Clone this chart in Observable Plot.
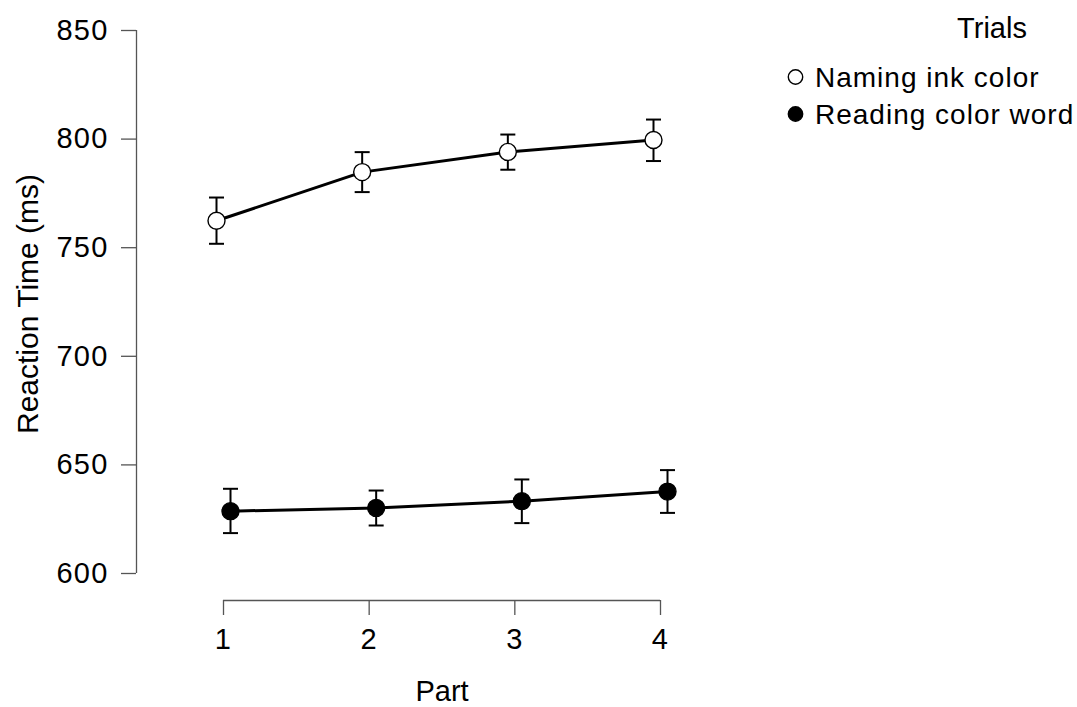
<!DOCTYPE html>
<html>
<head>
<meta charset="utf-8">
<script src="https://cdn.jsdelivr.net/npm/d3@7"></script>
<script src="https://cdn.jsdelivr.net/npm/@observablehq/plot@0.6"></script>
<style>
  html, body { margin: 0; padding: 0; background: #fff; }
  #wrap { position: relative; width: 1077px; height: 707px; overflow: hidden; font-family: "Liberation Sans", Arial, sans-serif; }
  #chart { position: absolute; left: 0; top: 0; }
  #legend { position: absolute; left: 0; top: 0; pointer-events: none; }
  #chart g[aria-label="y-axis tick label"] text,
  #chart g[aria-label="x-axis tick label"] text { letter-spacing: 1.2px; }
  #legend text { font-family: "Liberation Sans", Arial, sans-serif; fill: #000; }
</style>
</head>
<body>
<div id="wrap">
  <div id="chart"></div>
  <svg id="legend" width="1077" height="707"></svg>
</div>
<script>
// ---- Data ----
const parts = [1, 2, 3, 4];
const seriesNames = ["Naming ink color", "Reading color word"];
const namingMean = [762.4, 784.8, 794.1, 799.6];
const namingLo   = [751.8, 775.6, 785.9, 789.9];
const namingHi   = [773.1, 794.0, 802.1, 809.0];
const readingMean = [628.7, 630.2, 633.3, 637.7];
const readingLo   = [618.6, 622.1, 623.2, 627.9];
const readingHi   = [639.0, 638.2, 643.3, 647.6];
const yTicks = [600, 650, 700, 750, 800, 850];
const xTicks = [1, 2, 3, 4];
const xTitle = "Part";
const yTitle = "Reaction Time (ms)";
const legendTitle = "Trials";

const naming = parts.map((p, i) => ({part: p, mean: namingMean[i], lo: namingLo[i], hi: namingHi[i]}));
const reading = parts.map((p, i) => ({part: p, mean: readingMean[i], lo: readingLo[i], hi: readingHi[i]}));

const capSymbol = {
  draw(context, size) {
    context.moveTo(-7.5, 0);
    context.lineTo(7.5, 0);
  }
};

const W = 1077, H = 707;
const xRange = [223, 660];
const yRange = [573, 30];
const mL = 136, mT = 30, mB = 107, mR = W - xRange[1];
const off = 7;
const axisColor = "#555";

function series(data, dx, fill) {
  return [
    Plot.ruleX(data, {x: "part", y1: "lo", y2: "hi", dx, stroke: "black", strokeWidth: 2}),
    Plot.dot(data, {x: "part", y: "lo", dx, symbol: capSymbol, fill: "none", stroke: "black", strokeWidth: 2}),
    Plot.dot(data, {x: "part", y: "hi", dx, symbol: capSymbol, fill: "none", stroke: "black", strokeWidth: 2}),
    Plot.line(data, {x: "part", y: "mean", dx, stroke: "black", strokeWidth: 3}),
    Plot.dot(data, {x: "part", y: "mean", dx, r: 8.5, fill, stroke: "black", strokeWidth: 1.4})
  ];
}

const chart = Plot.plot({
  width: W,
  height: H,
  marginLeft: mL,
  marginRight: mR,
  marginTop: mT,
  marginBottom: mB,
  style: {fontFamily: '"Liberation Sans", Arial, sans-serif', background: "white", color: "black"},
  x: {domain: [1, 4], range: xRange},
  y: {domain: [600, 850], range: yRange},
  marks: [
    // axis lines
    Plot.ruleX([1], {y1: 600, y2: 850, dx: mL - xRange[0], stroke: axisColor, strokeWidth: 1.3}),
    Plot.ruleY([600], {x1: 1, x2: 4, dy: H - mB - yRange[0], stroke: axisColor, strokeWidth: 1.3}),
    Plot.axisY({ticks: yTicks, tickFormat: "d", tickSize: 15, tickPadding: 13, fontSize: 29, stroke: axisColor, strokeWidth: 1.3, fill: "black", label: null}),
    Plot.axisX({ticks: xTicks, tickFormat: "d", tickSize: 15, tickPadding: 13, fontSize: 29, stroke: axisColor, strokeWidth: 1.3, fill: "black", label: null}),
    Plot.text([xTitle], {text: d => d, frameAnchor: "bottom", textAnchor: "middle", lineAnchor: "top", dx: (xRange[0] + xRange[1]) / 2 - (mL + xRange[1]) / 2, dy: 80, fontSize: 29, fill: "black"}),
    Plot.text([yTitle], {text: d => d, frameAnchor: "left", textAnchor: "middle", rotate: -90, lineAnchor: "middle", dx: -108, dy: (yRange[0] + yRange[1]) / 2 - (mT + H - mB) / 2 + 2, fontSize: 30, fill: "black"}),
    ...series(naming, -off, "white"),
    ...series(reading, off, "black")
  ]
});
document.getElementById("chart").appendChild(chart);

// ---- Legend ----
const ns = "http://www.w3.org/2000/svg";
const lg = document.getElementById("legend");
function el(tag, attrs, text) {
  const e = document.createElementNS(ns, tag);
  for (const k in attrs) e.setAttribute(k, attrs[k]);
  if (text != null) e.textContent = text;
  lg.appendChild(e);
  return e;
}
el("text", {x: 992, y: 38, "text-anchor": "middle", "font-size": 29}, legendTitle);
const rows = [{y: 77, fill: "white"}, {y: 114, fill: "black"}];
rows.forEach((r, i) => {
  el("circle", {cx: 795.5, cy: r.y, r: 7.2, fill: r.fill, stroke: "black", "stroke-width": 1.4});
  el("text", {x: 815, y: r.y + 10, "font-size": 28, "letter-spacing": "1px"}, seriesNames[i]);
});
</script>
</body>
</html>
